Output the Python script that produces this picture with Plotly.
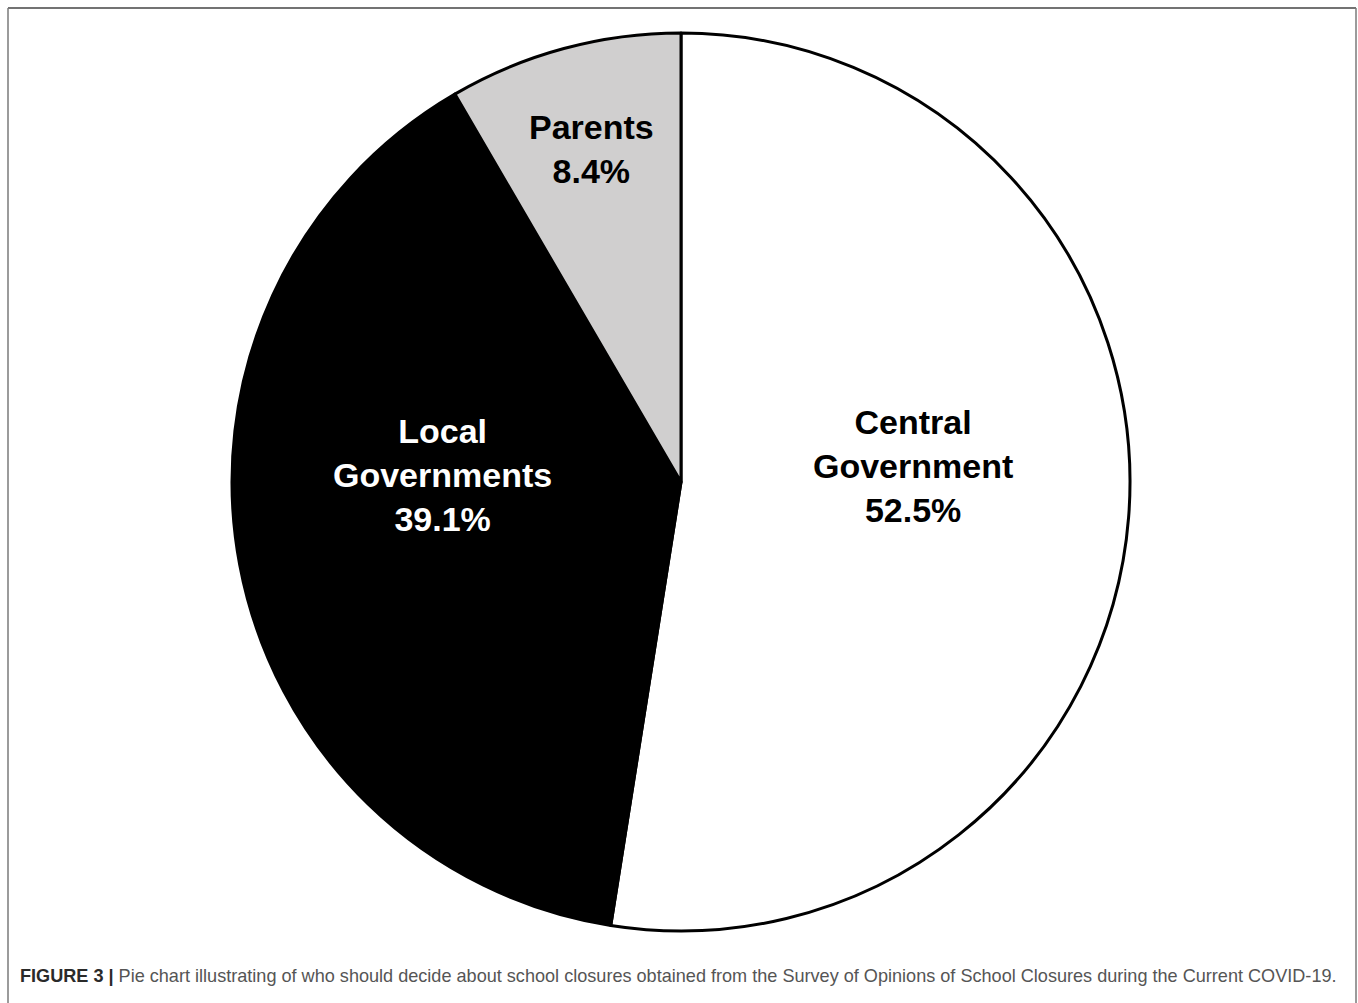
import plotly.graph_objects as go

labels = ["Central<br>Government", "Local<br>Governments", "Parents"]
values = [52.5, 39.1, 8.4]
colors = ["#ffffff", "#000000", "#d0cfcf"]
text_colors = ["#000000", "#ffffff", "#000000"]
# label centre positions in pixels (style/layout only)
label_pos = [(913, 466), (442, 475), (591, 149)]

W, H = 1358, 1003
FONT = "Liberation Sans, Arial, sans-serif"

fig = go.Figure(go.Pie(
    labels=labels,
    values=values,
    sort=False,
    direction="clockwise",
    rotation=0,
    marker=dict(colors=colors, line=dict(color="#000000", width=3)),
    textinfo="none",
    domain=dict(x=[232 / W, 1130 / W], y=[1 - 931 / H, 1 - 33 / H]),
    showlegend=False,
    hoverinfo="skip",
))

annotations = []
for lab, val, col, (px, py) in zip(labels, values, text_colors, label_pos):
    annotations.append(dict(
        xref="paper", yref="paper", x=px / W, y=1 - py / H,
        xanchor="center", yanchor="middle", showarrow=False,
        text=f"<b>{lab}<br>{val:.1f}%</b>",
        font=dict(family=FONT, size=34, color=col),
    ))

annotations.append(dict(
    xref="paper", yref="paper", x=18 / W, y=1 - 976 / H, xanchor="left", yanchor="middle",
    showarrow=False,
    text="<b>FIGURE 3 |</b> <span style='color:#555555'>Pie chart illustrating of who should decide about school closures obtained from the Survey of Opinions of School Closures during the Current COVID-19.</span>",
    font=dict(family=FONT, size=18.1, color="#2a2a2a"),
))

fig.update_layout(
    width=W, height=H, autosize=False,
    margin=dict(l=0, r=0, t=0, b=0),
    paper_bgcolor="#ffffff",
    font=dict(family=FONT),
    shapes=[
        dict(type="line", xref="paper", yref="paper", x0=8 / W, x1=1356 / W, y0=1 - 8 / H, y1=1 - 8 / H,
             line=dict(color="#444444", width=1.5)),
        dict(type="line", xref="paper", yref="paper", x0=8 / W, x1=8 / W, y0=1 - 8 / H, y1=-0.01,
             line=dict(color="#7a7a7a", width=1.5)),
        dict(type="line", xref="paper", yref="paper", x0=1356 / W, x1=1356 / W, y0=1 - 8 / H, y1=-0.01,
             line=dict(color="#7a7a7a", width=1.5)),
    ],
    annotations=annotations,
)

fig.write_html("out.html", config={"displayModeBar": False},
               post_script="document.body.style.margin='0';document.body.style.overflow='hidden';")
